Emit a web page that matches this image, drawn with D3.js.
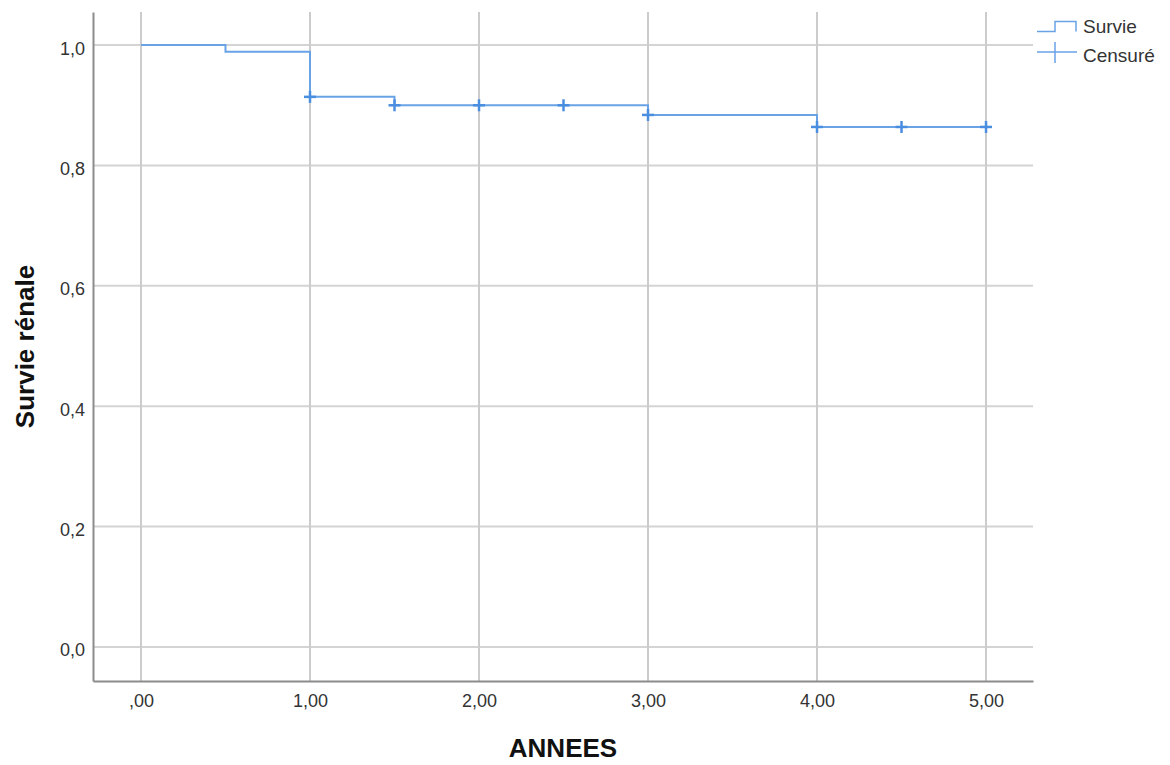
<!DOCTYPE html>
<html>
<head>
<meta charset="utf-8">
<script src="https://cdn.jsdelivr.net/npm/d3@7"></script>
<style>
  body { margin: 0; background: #fff; }
  text { font-family: "Liberation Sans", Arial, sans-serif; }
</style>
</head>
<body>
<div id="chart"></div>
<script>
// marges calées sur le cadre du graphique
var margin = {top: 12, right: 137, bottom: 84, left: 93};
var width = 1170 - margin.left - margin.right;
var height = 765 - margin.top - margin.bottom;

// données de la courbe de Kaplan-Meier
var stepTimes = [0, 0.5, 1.0, 1.5, 3.0, 4.0, 5.0];
var stepSurvival = [1.0, 0.989, 0.914, 0.900, 0.884, 0.864, 0.864];
var censorTimes = [1.0, 1.5, 2.0, 2.5, 3.0, 4.0, 4.5, 5.0];
var censorSurvival = [0.914, 0.900, 0.900, 0.900, 0.884, 0.864, 0.864, 0.864];

var xTicks = [0, 1, 2, 3, 4, 5];
var xTickLabels = [",00", "1,00", "2,00", "3,00", "4,00", "5,00"];
var yTicks = [0, 0.2, 0.4, 0.6, 0.8, 1.0];
var yTickLabels = ["0,0", "0,2", "0,4", "0,6", "0,8", "1,0"];
var legendLabels = ["Survie", "Censuré"];

var lineColor = "#6aa2e6";
var markColor = "#4a8ee0";

var svg = d3.select("#chart").append("svg")
    .attr("width", 1170)
    .attr("height", 765);

var g = svg.append("g")
    .attr("transform", "translate(" + margin.left + "," + margin.top + ")");

var x = d3.scaleLinear().domain([-0.284, 5.278]).range([0, width]);
var y = d3.scaleLinear().domain([-0.0565, 1.055]).range([height, 0]);

// grille
g.selectAll(".hgrid").data(yTicks).enter().append("line")
    .attr("x1", 0).attr("x2", width)
    .attr("y1", function(d) { return y(d); })
    .attr("y2", function(d) { return y(d); })
    .attr("stroke", "#d4d4d4").attr("stroke-width", 2);

g.selectAll(".vgrid").data(xTicks).enter().append("line")
    .attr("y1", 0).attr("y2", height)
    .attr("x1", function(d) { return x(d); })
    .attr("x2", function(d) { return x(d); })
    .attr("stroke", "#cccccc").attr("stroke-width", 2);

// axes (sans graduations)
var xAxis = g.append("g")
    .attr("transform", "translate(0," + height + ")")
    .call(d3.axisBottom(x).tickValues(xTicks).tickSize(0)
        .tickFormat(function(d, i) { return xTickLabels[i]; }));
var yAxis = g.append("g")
    .call(d3.axisLeft(y).tickValues(yTicks).tickSize(0).tickPadding(8)
        .tickFormat(function(d, i) { return yTickLabels[i]; }));

[xAxis, yAxis].forEach(function(a) {
    a.select(".domain").attr("stroke", "#8c8c8c").attr("stroke-width", 2);
    a.selectAll("text").attr("font-size", 18).attr("fill", "#333")
        .attr("font-family", "Liberation Sans, Arial, sans-serif");
});
xAxis.selectAll("text").attr("y", 26).attr("dy", 0);
yAxis.selectAll("text").attr("dy", "0.5em");

// courbe en escalier
var pts = stepTimes.map(function(t, i) { return [t, stepSurvival[i]]; });
var line = d3.line()
    .x(function(d) { return x(d[0]); })
    .y(function(d) { return y(d[1]); })
    .curve(d3.curveStepAfter);

g.append("path")
    .datum(pts)
    .attr("fill", "none")
    .attr("stroke", lineColor)
    .attr("stroke-width", 2)
    .attr("d", line);

// marques de censure
var cross = g.selectAll(".censor").data(censorTimes).enter().append("g")
    .attr("transform", function(d, i) {
        return "translate(" + x(d) + "," + y(censorSurvival[i]) + ")";
    });
cross.append("line").attr("x1", -6).attr("x2", 6)
    .attr("stroke", markColor).attr("stroke-width", 2.5);
cross.append("line").attr("y1", -6).attr("y2", 6)
    .attr("stroke", markColor).attr("stroke-width", 2.5);

// titres des axes
svg.append("text")
    .attr("x", margin.left + width / 2)
    .attr("y", 757)
    .attr("text-anchor", "middle")
    .attr("font-size", 26).attr("font-weight", "bold").attr("fill", "#111")
    .text("ANNEES");

svg.append("text")
    .attr("transform", "translate(34," + (margin.top + height / 2) + ") rotate(-90)")
    .attr("text-anchor", "middle")
    .attr("font-size", 26).attr("font-weight", "bold").attr("fill", "#111")
    .text("Survie rénale");

// légende
var leg = svg.append("g").attr("transform", "translate(1037,0)");
leg.append("path")
    .attr("d", "M0,31.5 H18 V21.5 H39 V31.5")
    .attr("fill", "none").attr("stroke", lineColor).attr("stroke-width", 1.5);
leg.append("line").attr("x1", 0).attr("x2", 40).attr("y1", 52).attr("y2", 52)
    .attr("stroke", lineColor).attr("stroke-width", 1.5);
leg.append("line").attr("x1", 18).attr("x2", 18).attr("y1", 42).attr("y2", 63)
    .attr("stroke", lineColor).attr("stroke-width", 1.5);

leg.selectAll(".leglab").data(legendLabels).enter().append("text")
    .attr("x", 46)
    .attr("y", function(d, i) { return 33 + i * 29; })
    .attr("font-size", 19).attr("fill", "#333")
    .text(function(d) { return d; });
</script>
</body>
</html>
